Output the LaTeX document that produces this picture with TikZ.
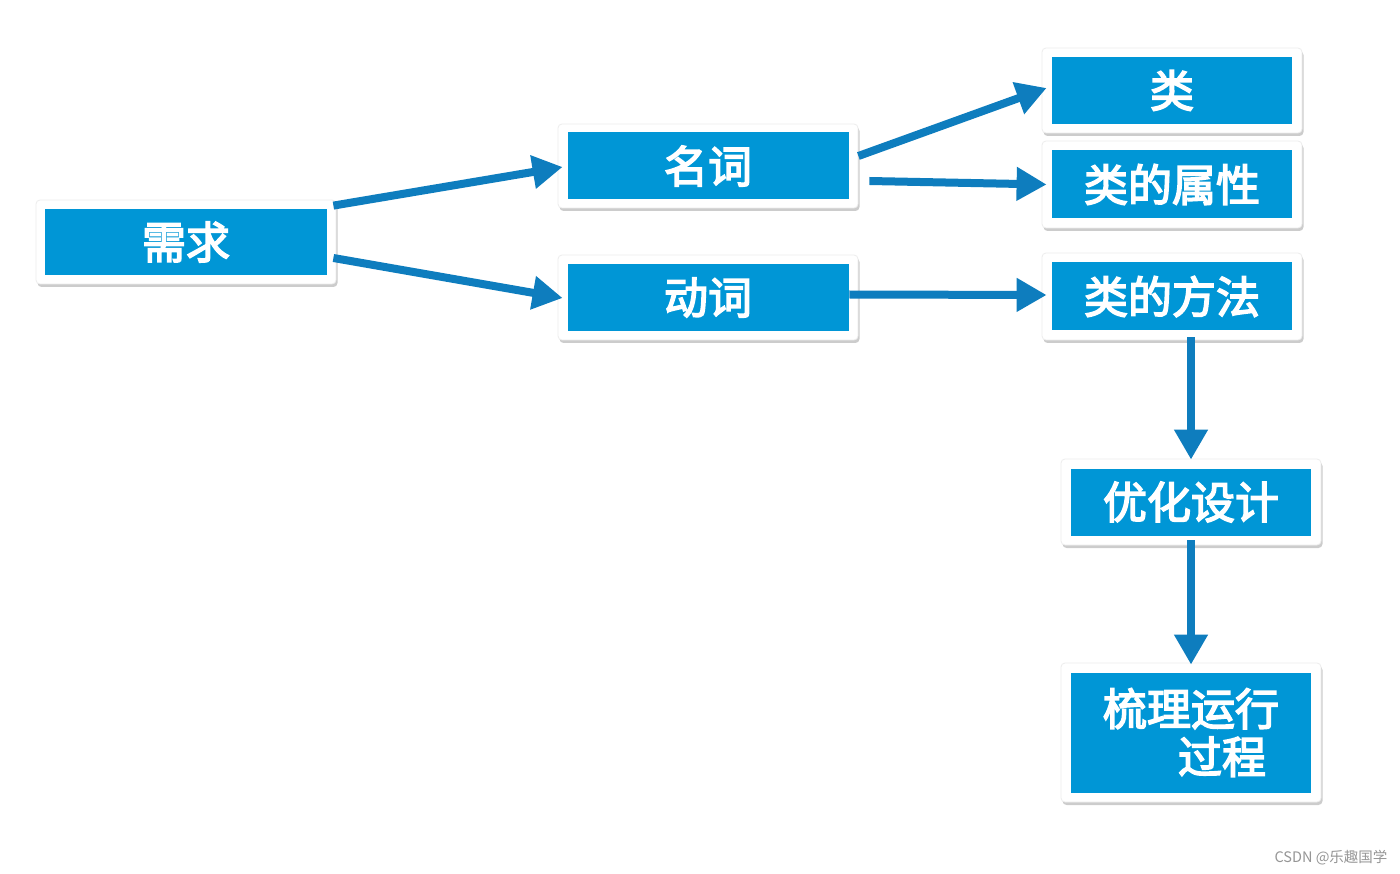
\documentclass[tikz,border=0pt]{standalone}
\usepackage{fontspec}
\newfontfamily\cjk{Noto Sans CJK SC}
\newfontfamily\cjkb{Noto Sans CJK SC}[FakeBold=3.5]
\usetikzlibrary{arrows.meta,shadows,calc}
\definecolor{boxblue}{RGB}{0,150,214}
\definecolor{arrowblue}{RGB}{14,125,190}
\definecolor{wmgray}{RGB}{150,150,150}
\tikzset{
  outerbox/.style={fill=white, draw=black!7, line width=0.8pt, rounded corners=4pt, inner sep=0pt,
    drop shadow={shadow xshift=1.5pt, shadow yshift=-3pt, fill=black, opacity=0.2}},
  innerbox/.style={fill=boxblue, inner sep=0pt, text=white, align=center,
    font=\cjkb\fontsize{44}{50}\selectfont},
  flowarrow/.style={draw=arrowblue, line width=8pt,
    -{Triangle[length=30pt,width=32pt]}}
}
\begin{document}
\begin{tikzpicture}[x=1pt,y=-1pt]
\useasboundingbox (0,0) rectangle (1400,874);
\fill[white] (0,0) rectangle (1400,874);

% outer frames
\node[outerbox, minimum width=300pt, minimum height=84pt] (req) at (186,242) {};
\node[outerbox, minimum width=300pt, minimum height=84pt] (noun) at (708,166) {};
\node[outerbox, minimum width=300pt, minimum height=85pt] (verb) at (708,297.5) {};
\node[outerbox, minimum width=260pt, minimum height=85pt] (cls) at (1172,90.5) {};
\node[outerbox, minimum width=260pt, minimum height=87pt] (attr) at (1172,184.5) {};
\node[outerbox, minimum width=260pt, minimum height=87pt] (meth) at (1172,296.5) {};
\node[outerbox, minimum width=260pt, minimum height=86pt] (opt) at (1191,502) {};
\node[outerbox, minimum width=260pt, minimum height=139pt] (flow) at (1191,732.5) {};

% inner blue fields with text
\node[innerbox, minimum width=282pt, minimum height=66pt] (reqT) at (req.center) {需求};
\node[innerbox, minimum width=281pt, minimum height=67pt] (nounT) at (noun.center) {名词};
\node[innerbox, minimum width=281pt, minimum height=67pt] (verbT) at (verb.center) {动词};
\node[innerbox, minimum width=240pt, minimum height=67pt] (clsT) at (cls.center) {类};
\node[innerbox, minimum width=240pt, minimum height=68pt] (attrT) at (attr.center) {类的属性};
\node[innerbox, minimum width=240pt, minimum height=68pt] (methT) at (meth.center) {类的方法};
\node[innerbox, minimum width=240pt, minimum height=67pt] (optT) at (opt.center) {优化设计};
\node[innerbox, minimum width=240pt, minimum height=120pt, align=left] (flowT) at (flow.center)
  {梳理运行\\[-2pt]\hspace*{75pt}过程};

% connectors
\draw[flowarrow] ($(req.north east)+(-3,6)$) -- ($(noun.west)+(5,1)$);
\draw[flowarrow] ($(req.east)+(-3,16)$) -- ($(verb.west)+(5,0.5)$);
\draw[flowarrow] ($(noun.east)+(0,-10)$) -- ($(cls.west)+(5,-2.5)$);
\draw[flowarrow] ($(noun.east)+(11,15)$) -- ($(attr.west)+(5,0)$);
\draw[flowarrow] ($(verb.east)+(-9,-3)$) -- ($(meth.west)+(5,-1.5)$);
\draw[flowarrow] ($(meth.south)+(19,-3)$) -- ($(opt.north)+(0,1)$);
\draw[flowarrow] ($(opt.south)+(0,-5)$) -- ($(flow.north)+(0,2)$);

% watermark
\node[text=wmgray, font=\cjk\fontsize{14.5}{16}\selectfont, inner sep=0pt] (wm) at (1331,858) {CSDN @乐趣国学};
\end{tikzpicture}
\end{document}
